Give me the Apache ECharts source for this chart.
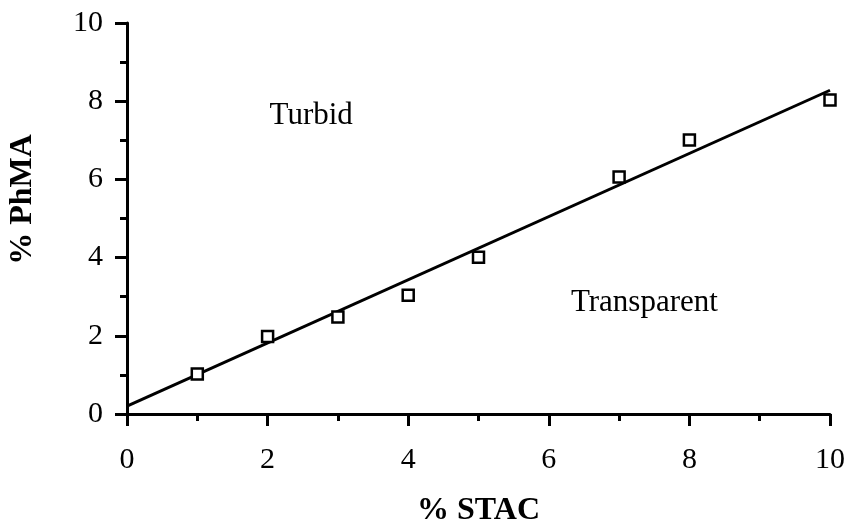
<!DOCTYPE html>
<html>
<head>
<meta charset="utf-8">
<script src="https://cdn.jsdelivr.net/npm/echarts@6/dist/echarts.min.js"></script>
<style>
  html, body { margin: 0; padding: 0; background: #fff; }
  #chart { width: 846px; height: 522px; }
</style>
</head>
<body>
<div id="chart"></div>
<script>
// Measured compositions (% STAC vs % PhMA) on the phase boundary
const stac = [1, 2, 3, 4, 5, 7, 8, 10];
const phma = [1.02, 1.98, 2.48, 3.04, 4.01, 6.06, 7.01, 8.03];

// Linear boundary fit, given by its two end points
const fitX = [0, 10];
const fitY = [0.2, 8.28];

// Region labels
const regionNames = ['Turbid', 'Transparent'];
const regionX = [2.62, 7.36];
const regionY = [7.62, 2.84];

const xTicks = [0, 2, 4, 6, 8, 10];
const yTicks = [0, 2, 4, 6, 8, 10];

const FONT = '"Liberation Serif", "Times New Roman", serif';
const INK = '#000';

const chart = echarts.init(document.getElementById('chart'), null, { renderer: 'canvas' });

function axisCommon(ticks) {
  return {
    type: 'value',
    min: ticks[0],
    max: ticks[ticks.length - 1],
    interval: ticks[1] - ticks[0],
    axisLine: { show: true, onZero: false, lineStyle: { color: INK, width: 3 } },
    axisTick: { show: true, inside: false, length: 12, lineStyle: { color: INK, width: 3 } },
    minorTick: { show: true, splitNumber: 2, length: 7, lineStyle: { color: INK, width: 3 } },
    splitLine: { show: false },
    nameLocation: 'middle'
  };
}

const option = {
  backgroundColor: '#fff',
  animation: false,
  grid: {
    left: 127, right: 16, top: 23, bottom: 108,
    containLabel: false,
    outerBoundsMode: 'none'
  },
  xAxis: Object.assign(axisCommon(xTicks), {
    name: '% STAC',
    nameGap: 81,
    nameTextStyle: { color: INK, fontFamily: FONT, fontSize: 32, fontWeight: 'bold' },
    axisLabel: { color: INK, fontFamily: FONT, fontSize: 30, margin: 31 }
  }),
  yAxis: Object.assign(axisCommon(yTicks), {
    name: '% PhMA',
    nameGap: 88,
    nameRotate: 90,
    nameTextStyle: {
      color: INK, fontFamily: FONT, fontSize: 32, fontWeight: 'bold',
      padding: [0, 0, 0, 38]
    },
    axisLabel: { color: INK, fontFamily: FONT, fontSize: 30, margin: 24 }
  }),
  series: [
    {
      type: 'line',
      data: fitX.map((x, i) => [x, fitY[i]]),
      showSymbol: false,
      lineStyle: { color: INK, width: 3 },
      z: 2
    },
    {
      type: 'scatter',
      data: stac.map((x, i) => [x, phma[i]]),
      symbol: 'rect',
      symbolSize: 11,
      itemStyle: { color: '#fff', borderColor: INK, borderWidth: 2.5, opacity: 1 },
      z: 3
    },
    {
      type: 'scatter',
      data: regionNames.map((n, i) => ({ value: [regionX[i], regionY[i]], name: n })),
      symbolSize: 1,
      itemStyle: { opacity: 0 },
      label: {
        show: true,
        position: 'inside',
        formatter: p => p.name,
        color: INK,
        opacity: 1,
        fontFamily: FONT,
        fontSize: 31
      },
      silent: true,
      z: 4
    }
  ]
};

chart.setOption(option);
</script>
</body>
</html>
